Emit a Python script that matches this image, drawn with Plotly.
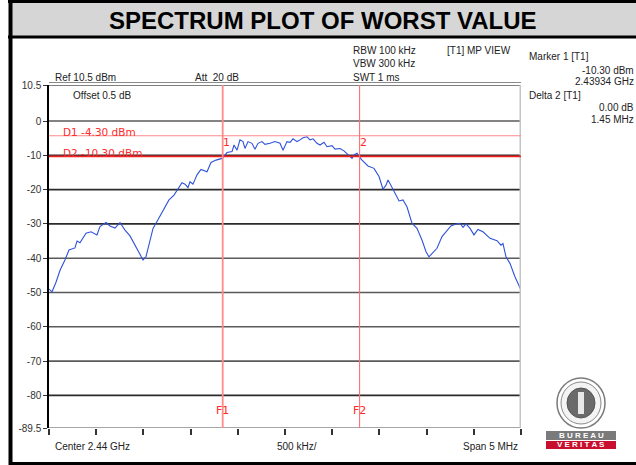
import plotly.graph_objects as go

# ---------------- data ----------------
freq_mhz = [2437.500, 2437.532, 2437.574, 2437.617, 2437.669, 2437.712, 2437.775, 2437.797,
            2437.828, 2437.892, 2437.945, 2437.987, 2438.008, 2438.040, 2438.104, 2438.146,
            2438.199, 2438.252, 2438.305, 2438.358, 2438.400, 2438.464, 2438.496, 2438.528,
            2438.570, 2438.602, 2438.644, 2438.708, 2438.771, 2438.824, 2438.877, 2438.909,
            2438.941, 2438.972, 2438.994, 2439.025, 2439.068, 2439.110, 2439.174, 2439.216,
            2439.269, 2439.333, 2439.354, 2439.386, 2439.439, 2439.460, 2439.492, 2439.523,
            2439.555, 2439.576, 2439.608, 2439.650, 2439.682, 2439.714, 2439.756, 2439.788,
            2439.841, 2439.894, 2439.947, 2439.979, 2440.021, 2440.053, 2440.085, 2440.127,
            2440.159, 2440.191, 2440.233, 2440.265, 2440.297, 2440.339, 2440.371, 2440.413,
            2440.445, 2440.498, 2440.530, 2440.583, 2440.625, 2440.667, 2440.710, 2440.731,
            2440.763, 2440.784, 2440.816, 2440.879, 2440.943, 2440.996, 2441.038, 2441.070,
            2441.091, 2441.112, 2441.155, 2441.208, 2441.250, 2441.292, 2441.345, 2441.398,
            2441.451, 2441.494, 2441.525, 2441.557, 2441.610, 2441.663, 2441.706, 2441.758,
            2441.811, 2441.854, 2441.886, 2441.917, 2441.960, 2442.002, 2442.044, 2442.097,
            2442.172, 2442.246, 2442.288, 2442.309, 2442.341, 2442.383, 2442.436, 2442.500]
level_dbm = [-49.0, -49.8, -47.0, -43.5, -40.5, -37.6, -37.0, -35.0,
             -35.5, -32.7, -32.3, -33.0, -33.2, -30.8, -29.6, -30.6,
             -31.2, -29.6, -31.8, -33.5, -35.6, -39.0, -40.5, -39.5,
             -35.2, -31.3, -29.3, -26.0, -23.0, -21.6, -19.1, -18.0,
             -18.4, -19.4, -17.7, -18.4, -15.7, -14.1, -14.8, -12.1,
             -11.4, -10.9, -10.3, -9.2, -8.9, -7.0, -8.5, -5.5,
             -6.0, -8.0, -6.0, -6.5, -8.2, -6.5, -6.0, -6.8,
             -6.5, -6.0, -6.5, -8.5, -6.0, -6.2, -5.2, -6.0,
             -5.5, -4.9, -4.6, -5.5, -5.2, -6.5, -7.0, -6.2,
             -7.5, -7.2, -8.2, -8.0, -8.7, -9.7, -10.9, -9.9,
             -9.4, -10.3, -11.4, -13.1, -13.8, -16.2, -19.9, -18.7,
             -17.2, -18.2, -20.6, -23.3, -23.0, -25.0, -29.8, -31.3,
             -34.7, -38.1, -39.6, -38.6, -37.1, -33.7, -32.3, -30.6,
             -30.0, -29.8, -31.0, -30.0, -31.3, -33.2, -31.6, -32.3,
             -34.2, -34.9, -36.2, -35.7, -39.6, -41.5, -45.4, -49.3]

y_tick_vals = [10.5, 0, -10, -20, -30, -40, -50, -60, -70, -80, -89.5]
y_tick_text = ["10.5", "0", "-10", "-20", "-30", "-40", "-50", "-60", "-70", "-80", "-89.5"]
grid_levels = [0, -10, -20, -30, -40, -50, -60, -70, -80]

display_lines = {"D1": -4.30, "D2": -10.30}
freq_lines = {"F1": 2439.34, "F2": 2440.79}
markers = {"1": (2439.34, -10.30), "2": (2440.79, -10.30)}

X0, X1 = 2437.5, 2442.5
Y0, Y1 = -89.5, 10.5

# plot area in pixels
W, H = 636, 465
PL, PR, PT, PB = 49, 521, 85, 428


def px(x):
    return (x - PL) / (PR - PL)


def py(y):
    return (PB - y) / (PB - PT)


FONT = "Liberation Sans, Arial, sans-serif"

fig = go.Figure()
fig.add_trace(go.Scatter(x=freq_mhz, y=level_dbm, mode="lines",
                         line=dict(color="#2f52d8", width=1.1), hoverinfo="skip",
                         showlegend=False))

shapes = []
# horizontal gridlines
for g in grid_levels:
    col = "#2b2b2b" if g in (-10, -20, -30, -80) else "#5a5a5a"
    shapes.append(dict(type="line", xref="x", yref="y", x0=X0, x1=X1, y0=g, y1=g,
                       line=dict(color=col, width=1.6), layer="below"))
# top double border
shapes.append(dict(type="line", xref="x", yref="y", x0=X0, x1=X1, y0=Y1, y1=Y1,
                   line=dict(color="#555555", width=1.5), layer="below"))
shapes.append(dict(type="line", xref="paper", yref="paper", x0=0, x1=1, y0=py(PT - 2.5), y1=py(PT - 2.5),
                   line=dict(color="#8a8a8a", width=1.2), layer="below"))
# bottom border
shapes.append(dict(type="line", xref="x", yref="y", x0=X0, x1=X1, y0=Y0, y1=Y0,
                   line=dict(color="#8a8a8a", width=1.5)))
# right border (light gray, thick)
shapes.append(dict(type="line", xref="x", yref="y", x0=X1, x1=X1, y0=Y0, y1=Y1,
                   line=dict(color="#c4c4c4", width=3)))
# display lines D1, D2
shapes.append(dict(type="line", xref="x", yref="y", x0=X0, x1=X1,
                   y0=display_lines["D1"], y1=display_lines["D1"],
                   line=dict(color="#ff8a8a", width=1.2)))
shapes.append(dict(type="line", xref="x", yref="y", x0=X0, x1=X1,
                   y0=display_lines["D2"], y1=display_lines["D2"],
                   line=dict(color="#ee2020", width=1.6)))
# frequency lines F1, F2
shapes.append(dict(type="line", xref="x", yref="y", x0=freq_lines["F1"], x1=freq_lines["F1"],
                   y0=Y0, y1=Y1, line=dict(color="#ff8a8a", width=1.8)))
shapes.append(dict(type="line", xref="x", yref="y", x0=freq_lines["F2"], x1=freq_lines["F2"],
                   y0=Y0, y1=Y1, line=dict(color="#ff7070", width=1.1)))

# page frame: header band
shapes.append(dict(type="rect", xref="paper", yref="paper", x0=px(11), x1=px(640),
                   y0=py(36), y1=py(3), fillcolor="#d6d6d6", line=dict(width=0), layer="below"))
shapes.append(dict(type="line", xref="paper", yref="paper", x0=px(8), x1=px(640),
                   y0=py(1.5), y1=py(1.5), line=dict(color="black", width=3)))
shapes.append(dict(type="line", xref="paper", yref="paper", x0=px(8), x1=px(640),
                   y0=py(37), y1=py(37), line=dict(color="black", width=3)))
shapes.append(dict(type="line", xref="paper", yref="paper", x0=px(10.5), x1=px(10.5),
                   y0=py(0), y1=py(465), line=dict(color="black", width=4)))
shapes.append(dict(type="line", xref="paper", yref="paper", x0=px(9), x1=px(640),
                   y0=py(463.5), y1=py(463.5), line=dict(color="black", width=3)))

# Bureau Veritas logo approximation
shapes.append(dict(type="circle", xref="paper", yref="paper", x0=px(557), x1=px(605),
                   y0=py(428), y1=py(378), line=dict(color="#7a7a7a", width=1.5),
                   fillcolor="white"))
shapes.append(dict(type="circle", xref="paper", yref="paper", x0=px(561), x1=px(601),
                   y0=py(424), y1=py(382), line=dict(color="#8a8a8a", width=1),
                   fillcolor="#f4f4f4"))
shapes.append(dict(type="circle", xref="paper", yref="paper", x0=px(567), x1=px(595),
                   y0=py(418), y1=py(388), line=dict(color="#555555", width=1), fillcolor="#6a6a6a"))
shapes.append(dict(type="rect", xref="paper", yref="paper", x0=px(578), x1=px(584),
                   y0=py(414), y1=py(392), line=dict(width=0), fillcolor="#e8e8e8"))
shapes.append(dict(type="rect", xref="paper", yref="paper", x0=px(546), x1=px(616),
                   y0=py(440), y1=py(431), line=dict(width=0), fillcolor="#7a7a7a"))
shapes.append(dict(type="rect", xref="paper", yref="paper", x0=px(546), x1=px(616),
                   y0=py(449), y1=py(441), line=dict(width=0), fillcolor="#c8102e"))

ann = []


def text(x, y, s, size=10, color="#222222", anchor="left", bold=False, family=FONT, yanchor="middle"):
    ann.append(dict(xref="paper", yref="paper", x=px(x), y=py(y), text=f"<b>{s}</b>" if bold else s,
                    showarrow=False, xanchor=anchor, yanchor=yanchor,
                    font=dict(size=size, color=color, family=family)))


text(323, 20, "SPECTRUM PLOT OF WORST VALUE", size=24, color="black", anchor="center", bold=True)
text(53, 77, "Ref 10.5 dBm")
text(193, 77, "Att  20 dB")
text(71, 96, "Offset 0.5 dB")
text(351, 51, "RBW 100 kHz")
text(351, 64, "VBW 300 kHz")
text(351, 77, "SWT 1 ms")
text(445, 51, "[T1] MP VIEW")
text(527, 57, "Marker 1 [T1]")
text(636, 70, "-10.30 dBm", anchor="right")
text(636, 82, "2.43934 GHz", anchor="right")
text(527, 95, "Delta 2 [T1]")
text(636, 107, "0.00 dB", anchor="right")
text(636, 119, "1.45 MHz", anchor="right")
text(53, 446, "Center 2.44 GHz")
text(275, 446, "500 kHz/")
text(520, 446, "Span 5 MHz", anchor="right")

RED_FONT = "DejaVu Sans, sans-serif"
text(61, 132, f"D1 {display_lines['D1']:.2f} dBm", size=10.5, color="#ff2a2a", family=RED_FONT)
text(61, 153, f"D2 {display_lines['D2']:.2f} dBm", size=10.5, color="#ff2a2a", family=RED_FONT)

for name, (fx, fy) in markers.items():
    ann.append(dict(xref="x", yref="y", x=fx, y=display_lines["D1"], text=name, showarrow=False,
                    xanchor="left", yanchor="top", xshift=-2, yshift=2,
                    font=dict(size=11, color="#ff2a2a", family=RED_FONT)))
for name, fx in freq_lines.items():
    ann.append(dict(xref="x", yref="y", x=fx, y=-84.3, text=name, showarrow=False,
                    xanchor="center", yanchor="middle",
                    font=dict(size=11, color="#ff2a2a", family=RED_FONT)))

text(581, 435.5, "B U R E A U", size=8, color="white", anchor="center", bold=True)
text(581, 445, "V E R I T A S", size=8, color="white", anchor="center", bold=True)

fig.update_layout(
    width=W, height=H,
    margin=dict(l=PL, r=W - PR, t=PT, b=H - PB, pad=0),
    paper_bgcolor="white", plot_bgcolor="white",
    shapes=shapes, annotations=ann, showlegend=False,
    xaxis=dict(range=[X0, X1], showgrid=False, zeroline=False, showticklabels=False,
               ticks="outside", tickmode="linear", tick0=X0, dtick=0.5, ticklen=6,
               tickcolor="#333333", tickwidth=1.5, showline=False, fixedrange=True),
    yaxis=dict(range=[Y0, Y1], showgrid=False, zeroline=False, tickmode="array",
               tickvals=y_tick_vals, ticktext=y_tick_text, ticks="outside", ticklen=4,
               tickcolor="#333333", tickfont=dict(size=10, color="#333333", family=FONT),
               showline=True, linecolor="black", linewidth=1.5, fixedrange=True),
)

fig.write_html("out.html", config={"displayModeBar": False},
               post_script="document.body.style.margin='0px';document.body.style.overflow='hidden';")
